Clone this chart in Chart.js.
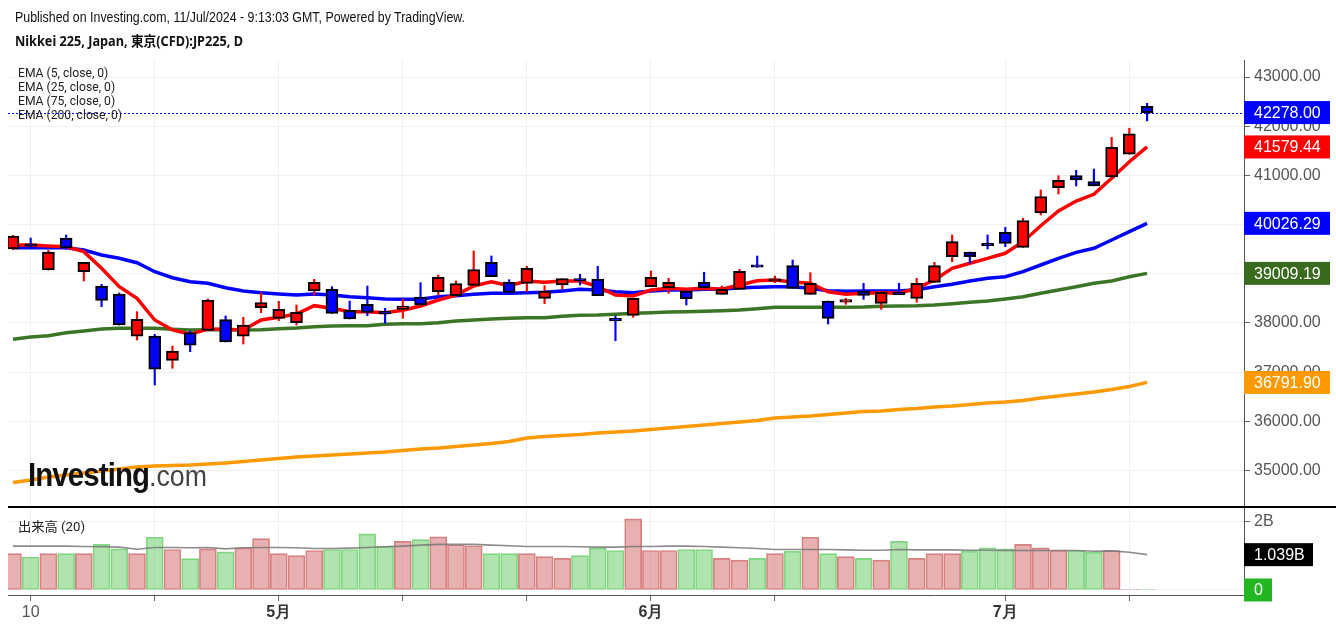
<!DOCTYPE html>
<html>
<head>
<meta charset="utf-8">
<script src="https://cdn.jsdelivr.net/npm/chart.js@4.4.1/dist/chart.umd.min.js"></script>
<style>
  body { margin: 0; background: #fff; }
  #wrap { position: relative; width: 1336px; height: 629px; overflow: hidden; }
  #c { position: absolute; left: 0; top: 0; }
  .t { position: absolute; white-space: nowrap; transform-origin: left top; }
  #pub { left: 15px; top: 9px; font: 14px "Liberation Sans", Arial, sans-serif; color: #111; }
  #name { left: 15px; top: 32px; font: bold 14px "Noto Sans", "Noto Sans CJK JP", sans-serif; color: #111; line-height: 18px; }
  #ema { left: 18px; top: 66px; font: 13px Roboto, "Noto Sans", sans-serif; color: #222; line-height: 14px; }
  #volname { left: 18px; top: 516px; font: 13px Roboto, "Noto Sans CJK JP", sans-serif; color: #222; }
  #logo { left: 28px; top: 456px; line-height: 32px; }
  #logo .a { font: bold 33px "Liberation Sans", Arial, sans-serif; letter-spacing: -1px; color: #111; }
  #logo .b { font: 30px "Liberation Sans", Arial, sans-serif; color: #444; }
</style>
</head>
<body>
<div id="wrap">
  <canvas id="c" width="1336" height="629"></canvas>
  <div class="t" id="pub">Published on Investing.com, 11/Jul/2024 - 9:13:03 GMT, Powered by TradingView.</div>
  <div class="t" id="name">Nikkei 225, Japan, 東京(CFD):JP225, D</div>
  <div class="t" id="ema">EMA (5, close, 0)<br>EMA (25, close, 0)<br>EMA (75, close, 0)<br>EMA (200, close, 0)</div>
  <div class="t" id="volname">出来高 (20)</div>
  <div class="t" id="logo"><span class="a">Investing</span><span class="b">.com</span></div>
</div>
<script>
// trading days, Apr 9 - Jul 11 2024
const dates = [
  '04-09','04-10','04-11','04-12','04-15','04-16','04-17','04-18','04-19','04-22','04-23','04-24','04-25','04-26','04-30',
  '05-01','05-02','05-07','05-08','05-09','05-10','05-13','05-14','05-15','05-16','05-17','05-20','05-21','05-22','05-23',
  '05-24','05-27','05-28','05-29','05-30','05-31',
  '06-03','06-04','06-05','06-06','06-07','06-10','06-11','06-12','06-13','06-14','06-17','06-18','06-19','06-20','06-21',
  '06-24','06-25','06-26','06-27','06-28',
  '07-01','07-02','07-03','07-04','07-05','07-08','07-09','07-10','07-11'
];

const opens = [39504,39610,39077,39728,39043,38752,38590,37730,37736,37241,37803,37851,38067,37730,38311,
  38095,38006,38651,38685,38258,38380,38235,38278,38529,38637,38555,38766,39234,38834,38807,
  38502,38773,38905,38895,38095,38156,38738,38712,38651,38834,38583,38685,39185,38850,39165,
  38583,38447,38425,38651,38400,38625,38502,38827,39348,39443,39620,39844,39539,40236,40751,
  40995,40873,40968,41430,42406];
const highs = [39780,39728,39480,39789,39234,38787,38610,38230,37770,37532,37837,38488,38142,38116,38616,
  38441,38366,38888,38738,38447,38752,38298,38482,38820,38976,38854,39464,39362,38880,39153,
  38759,38901,38990,39153,38142,38502,39057,38908,38651,39031,38752,39092,39362,38955,39281,
  39023,38447,38502,38807,38624,38807,38909,39234,39789,39443,39789,39946,40129,40704,40995,
  41104,41129,41774,41960,42467];
const lows = [39490,39540,39077,39500,38854,38331,37959,37654,36740,37079,37417,37851,37614,37573,38209,
  38047,37959,38569,38197,38081,38148,37993,38095,38366,38569,38555,38766,38941,38624,38637,
  38392,38697,38773,38555,37640,38116,38738,38604,38366,38712,38583,38685,39133,38820,38705,
  38583,37980,38380,38481,38278,38575,38421,38827,39246,39214,39504,39551,39539,40196,40623,
  40786,40786,40968,41430,42110];
const closes = [39769,39560,39443,39525,39234,38461,37959,38075,37059,37431,37547,38468,37614,37959,38413,
  38278,38217,38827,38197,38081,38217,38185,38346,38366,38929,38800,39084,38941,38624,39112,
  38651,38901,38860,38555,38041,38502,38929,38827,38494,38712,38685,39051,39135,38900,38705,
  38807,38095,38475,38563,38624,38575,38807,39165,39653,39348,39570,39620,40080,40568,40901,
  40908,40786,41572,41848,42278];

const ema5 = [39586,39586,39565,39551,39450,39112,38738,38502,38061,37858,37770,37878,37872,37858,38061,
  38116,38183,38352,38299,38230,38230,38209,38258,38346,38468,38569,38752,38840,38758,38854,
  38827,38854,38854,38738,38569,38549,38671,38705,38685,38705,38685,38773,38860,38874,38834,
  38807,38636,38583,38604,38616,38604,38705,38874,39112,39214,39315,39417,39653,39978,40277,
  40480,40616,40942,41279,41579.44];
const ema25 = [39531,39531,39531,39531,39484,39382,39315,39226,39043,38921,38840,38807,38718,38651,38616,
  38590,38569,38590,38569,38535,38514,38488,38482,38482,38535,38555,38583,38604,38604,38616,
  38624,38651,38685,38671,38636,38616,38651,38671,38671,38685,38685,38718,38726,38738,38738,
  38705,38657,38644,38651,38651,38651,38675,38738,38787,38854,38909,38941,39043,39179,39315,
  39437,39519,39687,39856,40026.29];
const ema75 = [37669,37715,37742,37803,37837,37878,37892,37892,37892,37872,37858,37864,37864,37858,37864,
  37884,37898,37925,37939,37945,37945,37974,37986,37986,38006,38041,38061,38081,38096,38108,
  38108,38136,38157,38163,38177,38197,38209,38224,38230,38238,38250,38264,38291,38319,38319,
  38319,38319,38319,38325,38340,38346,38352,38366,38392,38421,38447,38488,38535,38604,38671,
  38738,38807,38854,38941,39009.19];
const ema200 = [34757,34808,34869,34910,34950,34991,35032,35072,35093,35103,35113,35134,35154,35184,35215,
  35245,35276,35296,35316,35337,35357,35377,35408,35438,35459,35489,35520,35550,35591,35662,
  35693,35713,35733,35764,35784,35804,35835,35865,35896,35926,35957,35987,36018,36069,36089,
  36109,36140,36170,36201,36211,36241,36262,36292,36313,36343,36374,36394,36424,36475,36516,
  36557,36597,36648,36709,36791.90];

// volume in billions
const volumeB = [1.07,0.97,1.07,1.07,1.07,1.34,1.21,1.07,1.55,1.19,0.92,1.21,1.12,1.24,1.51,
  1.07,1.01,1.16,1.19,1.19,1.65,1.29,1.43,1.48,1.56,1.33,1.30,1.07,1.07,1.07,
  0.98,0.93,1.01,1.24,1.16,2.09,1.16,1.16,1.19,1.19,0.93,0.88,0.93,1.07,1.14,
  1.55,1.07,0.98,0.93,0.88,1.43,0.93,1.07,1.07,1.14,1.24,1.21,1.34,1.24,1.16,
  1.16,1.11,1.16,0.01,0.01];
const volMa20 = [1.29,1.29,1.29,1.29,1.28,1.27,1.26,1.20,1.25,1.25,1.24,1.25,1.21,1.24,1.25,
  1.25,1.24,1.22,1.22,1.23,1.25,1.27,1.29,1.32,1.34,1.34,1.34,1.32,1.30,1.28,
  1.28,1.28,1.27,1.26,1.26,1.28,1.28,1.29,1.29,1.28,1.26,1.24,1.22,1.19,1.19,
  1.19,1.19,1.18,1.17,1.17,1.19,1.18,1.18,1.18,1.17,1.17,1.16,1.16,1.16,1.16,
  1.16,1.14,1.15,1.11,1.039];

// x axis ticks (index into dates) and their labels
const tickIndex = [1, 8, 15, 22, 29, 36, 43, 56, 63];
const tickText  = ['10', '', '5月', '', '', '6月', '', '7月', ''];
const priceTicks = [35000, 36000, 37000, 38000, 39000, 40000, 41000, 42000, 43000];
const volTicks = [0, 2];

const FONT = '"Liberation Sans", Arial, sans-serif';
Chart.defaults.font.family = FONT;

const idx = dates.map((d, i) => i);
const isUp = idx.map(i => closes[i] >= opens[i]);
const candleCol = isUp.map(u => u ? '#ff0000' : '#0000ff');

const line = (label, arr, color, width, axis, order) => ({
  type: 'line', label, yAxisID: axis, order,
  data: idx.map(i => ({ x: i, y: arr[i] })),
  borderColor: color, borderWidth: width, pointRadius: 0, tension: 0, fill: false
});

const boxes = {
  id: 'boxes',
  beforeDatasetsDraw(chart) {
    const c = chart.ctx, y = chart.scales.y, a = chart.chartArea;
    const py = Math.round(y.getPixelForValue(closes[closes.length - 1])) + 0.5;
    c.save();
    c.strokeStyle = '#0000ff';
    c.lineWidth = 1;
    c.setLineDash([2, 2]);
    c.beginPath(); c.moveTo(a.left, py); c.lineTo(a.right, py); c.stroke();
    c.restore();
  },
  afterDraw(chart) {
    const c = chart.ctx, y = chart.scales.y, yv = chart.scales.yv, a = chart.chartArea;
    c.save();
    // pane separator
    c.fillStyle = '#000';
    c.fillRect(a.left, yv.top - 1, 1336 - a.left, 2);
    const tag = (py, color, text, w) => {
      c.fillStyle = color;
      c.fillRect(a.right, py - 11.5, w, 23);
      c.fillStyle = '#fff';
      c.font = '16px ' + FONT;
      c.textBaseline = 'middle';
      c.fillText(text, a.right + 10, py + 1);
    };
    const n = closes.length - 1;
    tag(y.getPixelForValue(closes[n]), '#0000ff', closes[n].toFixed(2), 86);
    tag(y.getPixelForValue(ema5[n]), '#ff0000', ema5[n].toFixed(2), 86);
    tag(y.getPixelForValue(ema25[n]), '#0000ff', ema25[n].toFixed(2), 86);
    tag(y.getPixelForValue(ema75[n]), '#386b1e', ema75[n].toFixed(2), 86);
    tag(y.getPixelForValue(ema200[n]), '#ff9900', ema200[n].toFixed(2), 86);
    tag(yv.getPixelForValue(volMa20[n]), '#000', volMa20[n].toFixed(3) + 'B', 69);
    tag(yv.getPixelForValue(Math.round(volumeB[n])), '#22b722', String(Math.round(volumeB[n])), 28);
    c.restore();
  }
};

new Chart(document.getElementById('c'), {
  type: 'bar',
  data: {
    datasets: [
      {
        label: 'body', yAxisID: 'y', order: 1, grouped: false,
        data: idx.map(i => ({ x: i, y: [opens[i], closes[i]] })),
        backgroundColor: candleCol, borderColor: '#000', borderWidth: 2,
        borderSkipped: false, barThickness: 12
      },
      {
        label: 'wick', yAxisID: 'y', order: 2, grouped: false,
        data: idx.map(i => ({ x: i, y: [lows[i], highs[i]] })),
        backgroundColor: candleCol, borderWidth: 0, barThickness: 1.5
      },
      line('EMA5', ema5, '#ff0000', 3.5, 'y', 3),
      line('EMA25', ema25, '#0000ff', 3.5, 'y', 3),
      line('EMA75', ema75, '#3d7527', 3.5, 'y', 3),
      line('EMA200', ema200, '#ff9900', 3.5, 'y', 3),
      line('VolMA20', volMa20, 'rgba(120,120,120,0.85)', 1.6, 'yv', 4),
      {
        label: 'volume', yAxisID: 'yv', order: 5, grouped: false,
        data: idx.map(i => ({ x: i, y: volumeB[i] })),
        backgroundColor: isUp.map(u => u ? 'rgba(214,120,120,0.58)' : 'rgba(110,205,110,0.55)'),
        borderColor: isUp.map(u => u ? '#d98383' : '#86d886'),
        borderWidth: 1, borderSkipped: false, barThickness: 17
      }
    ]
  },
  options: {
    responsive: false,
    animation: false,
    devicePixelRatio: 1,
    layout: { padding: { left: 8, top: 60, right: 0, bottom: 0 } },
    plugins: { legend: { display: false }, tooltip: { enabled: false } },
    scales: {
      x: {
        type: 'linear', min: -0.28, max: 69.47, offset: false,
        afterBuildTicks: s => { s.ticks = tickIndex.map(v => ({ value: v })); },
        afterFit: s => { s.height = 34; },
        grid: { color: '#f0f0f0', tickColor: '#666', tickLength: 6, offset: false },
        border: { color: '#555' },
        ticks: {
          autoSkip: false, maxRotation: 0, padding: 2,
          callback: v => tickText[tickIndex.indexOf(v)] || '',
          color: c => (c.tick && c.tick.value === 1) ? '#555' : '#333',
          font: c => ({ family: FONT, size: 16, weight: (c.tick && c.tick.value === 1) ? 'normal' : 'bold' })
        }
      },
      y: {
        position: 'right', stack: 'pane', stackWeight: 447,
        min: 34259, max: 43347,
        afterBuildTicks: s => { s.ticks = priceTicks.map(v => ({ value: v })); },
        afterFit: s => { s.width = 92; },
        grid: { color: '#f0f0f0', tickColor: '#666', tickLength: 6 },
        border: { color: '#555' },
        ticks: { color: '#555', padding: 4, font: { size: 16 }, callback: v => v.toFixed(2) }
      },
      yv: {
        position: 'right', stack: 'pane', stackWeight: 88,
        min: -0.147, max: 2.44,
        afterBuildTicks: s => { s.ticks = volTicks.map(v => ({ value: v })); },
        afterFit: s => { s.width = 92; },
        grid: { color: '#f0f0f0', tickColor: '#666', tickLength: 6 },
        border: { color: '#555' },
        ticks: { color: '#555', padding: 4, font: { size: 16 }, callback: v => v === 0 ? '0' : v + 'B' }
      }
    }
  },
  plugins: [boxes]
});

// squeeze the overlay texts to the widths they have in the picture
function fit(id, w) {
  const el = document.getElementById(id);
  const r = el.getBoundingClientRect().width;
  el.style.transform = 'scaleX(' + (w / r) + ')';
}
fit('pub', 450);
fit('name', 228);
fit('ema', 104);
fit('volname', 67);
fit('logo', 179);
</script>
</body>
</html>
